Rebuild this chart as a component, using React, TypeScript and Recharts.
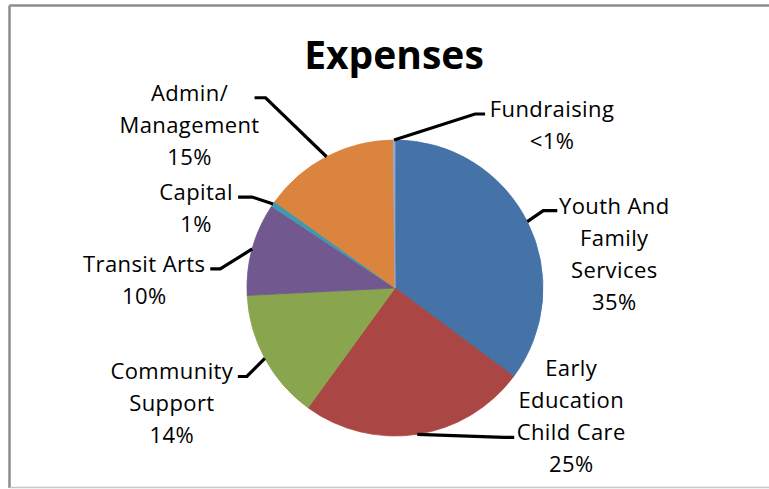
import React from "react";
import { PieChart, Pie, Cell } from "recharts";

// Expense categories, clockwise from 12 o'clock ("\n" = line break in the label)
const categories = [
  "Youth And\nFamily\nServices",
  "Early\nEducation\nChild Care",
  "Community\nSupport",
  "Transit Arts",
  "Capital",
  "Admin/\nManagement",
  "Fundraising",
];
const expenseShares = [35.2, 24.8, 14.2, 10.1, 0.6, 14.9, 0.2];
const sliceColors = ["#4572A7", "#AA4643", "#89A54E", "#71588F", "#4198AF", "#DB843D", "#93A9CF"];

// label placement: hook offset from the slice edge, elbow offset from hook,
// text centre offset from hook, and which text line the hook meets
const labelSpots = [
  { hx: 30, hy: -11, ex: -14, tx: 57, line: 0 },
  { hx: 97, hy: 3, ex: -10, tx: 57, line: 2 },
  { hx: -27, hy: 18, ex: 9, tx: -66, line: 0 },
  { hx: -42, hy: 20, ex: 10, tx: -66, line: 0 },
  { hx: -35, hy: -7, ex: 14, tx: -42, line: 0 },
  { hx: -72, hy: -59, ex: 11, tx: -65, line: 0 },
  { hx: 91, hy: -26, ex: -10, tx: 67, line: 0 },
];

const chartData = categories.map((name, i) => ({ name, value: expenseShares[i] }));

const FONT = "'Open Sans', 'Noto Sans', sans-serif";
const LINE_PITCH = 32;
const RAD = Math.PI / 180;

const formatPct = (p: number) => (p * 100 < 0.5 ? "<1%" : `${Math.round(p * 100)}%`);

const renderLabel = (props: any) => {
  const { cx, cy, midAngle, outerRadius, index, percent } = props;
  const spot = labelSpots[index];
  const sx = cx + outerRadius * Math.cos(-midAngle * RAD);
  const sy = cy + outerRadius * Math.sin(-midAngle * RAD);
  const hookX = sx + spot.hx;
  const hookY = sy + spot.hy;
  const lines = [...categories[index].split("\n"), formatPct(percent)];
  const firstBase = hookY + 3 - spot.line * LINE_PITCH;
  return (
    <g key={`lbl-${index}`}>
      <polyline
        points={`${sx},${sy} ${hookX + spot.ex},${hookY} ${hookX},${hookY}`}
        fill="none"
        stroke="#000"
        strokeWidth={3.2}
      />
      <text textAnchor="middle" fontFamily={FONT} fontSize={22} letterSpacing={0.4} fill="#000">
        {lines.map((l, i) => (
          <tspan key={i} x={hookX + spot.tx} y={firstBase + i * LINE_PITCH}>
            {l}
          </tspan>
        ))}
      </text>
    </g>
  );
};

export default function App() {
  return (
    <div style={{ position: "absolute", left: 0, top: 0, width: 769, height: 489, overflow: "hidden", background: "#fff" }}>
      <svg width={769} height={489} style={{ position: "absolute", left: 0, top: 0 }}>
        <line x1={9.5} y1={5.5} x2={769} y2={5.5} stroke="#8c8c8c" strokeWidth={2.5} />
        <line x1={9.5} y1={5.5} x2={9.5} y2={488} stroke="#8c8c8c" strokeWidth={2.5} />
        <line x1={9.5} y1={487.5} x2={769} y2={487.5} stroke="#c8c8c8" strokeWidth={1.5} />
        <text x={394} y={69} textAnchor="middle" fontFamily={FONT} fontWeight="bold" fontSize={39} fill="#000">
          Expenses
        </text>
      </svg>
      <div style={{ position: "absolute", left: 0, top: 0 }}>
        <PieChart width={769} height={489} margin={{ top: 0, right: 0, bottom: 0, left: 0 }}>
          <Pie
            data={chartData}
            dataKey="value"
            nameKey="name"
            cx={395}
            cy={288}
            outerRadius={148}
            startAngle={90}
            endAngle={-270}
            label={renderLabel}
            labelLine={false}
            isAnimationActive={false}
          >
            {chartData.map((d, i) => (
              <Cell key={d.name} fill={sliceColors[i]} stroke={sliceColors[i]} strokeWidth={0.8} />
            ))}
          </Pie>
        </PieChart>
      </div>
    </div>
  );
}
